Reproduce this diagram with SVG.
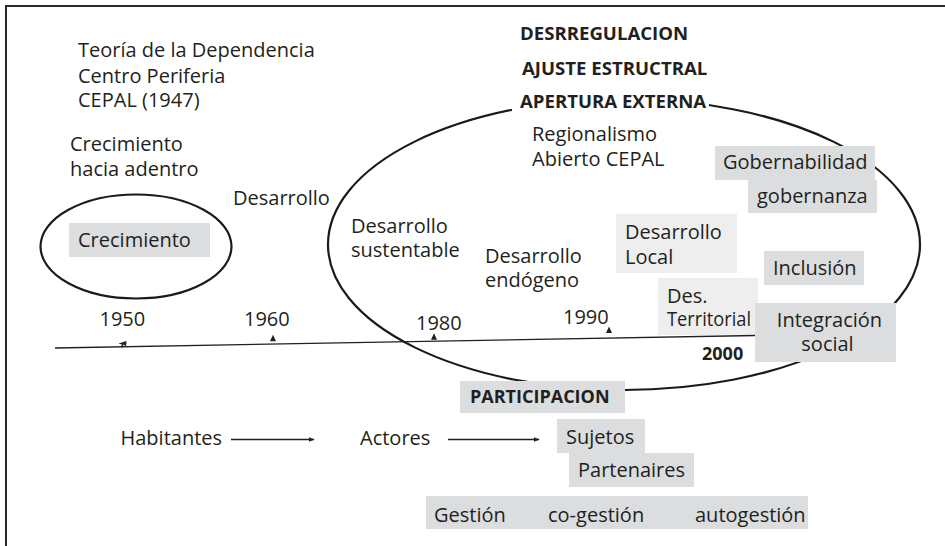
<svg xmlns="http://www.w3.org/2000/svg" width="945" height="546" viewBox="0 0 945 546">
  <defs>
    <style>
      .t { font-family: "Open Sans", "Liberation Sans", sans-serif; font-size: 20px; fill: #231f20; }
      .b { font-family: "Open Sans", "Liberation Sans", sans-serif; font-size: 18.6px; font-weight: 700; fill: #231f20; }
      .box { fill: #dcdddf; }
      .lbox { fill: #eeeeef; }
      .ell { fill: none; stroke: #1a1a1a; stroke-width: 2.2; }
      .conn { fill: none; stroke: #231f20; stroke-width: 1.3; }
      .tick { fill: #231f20; }
    </style>
    <marker id="arr" viewBox="0 0 10 10" refX="9" refY="5" markerWidth="6" markerHeight="6" markerUnits="userSpaceOnUse" orient="auto">
      <path d="M0,1 L10,5 L0,9 Z" fill="#231f20"/>
    </marker>
    <path id="tri" d="M-3,0 L3,0 L0,-6.5 Z"/>
  </defs>

  <rect x="0" y="0" width="945" height="546" fill="#ffffff"/>
  <!-- frame (top and left edges) -->
  <path d="M6,546 L6,6 L945,6" fill="none" stroke="#2a2a2a" stroke-width="2"/>

  <!-- left texts -->
  <g id="teoria">
    <text class="t" x="78" y="57">Teoría de la Dependencia</text>
    <text class="t" x="78" y="82.5">Centro Periferia</text>
    <text class="t" x="78" y="107">CEPAL (1947)</text>
  </g>
  <g id="crec-adentro">
    <text class="t" x="70" y="150.5">Crecimiento</text>
    <text class="t" x="70" y="175.5">hacia adentro</text>
  </g>
  <g id="desarrollo">
    <text class="t" x="233" y="205">Desarrollo</text>
  </g>

  <!-- small ellipse with Crecimiento -->
  <g id="crecimiento">
    <ellipse class="ell" cx="136" cy="246.5" rx="95.5" ry="52"/>
    <rect class="box" x="69" y="223" width="141" height="34"/>
    <text class="t" x="78" y="246.5">Crecimiento</text>
  </g>

  <!-- big ellipse -->
  <g id="big-ellipse">
    <ellipse class="ell" cx="624" cy="244.5" rx="296" ry="145.5"/>
  </g>

  <!-- top bold labels -->
  <g id="desrregulacion">
    <text class="b" x="520" y="40">DESRREGULACION</text>
  </g>
  <g id="ajuste">
    <text class="b" x="522" y="75">AJUSTE ESTRUCTRAL</text>
  </g>
  <g id="apertura">
    <rect x="512" y="90" width="197" height="24" fill="#ffffff"/>
    <text class="b" x="520" y="108">APERTURA EXTERNA</text>
  </g>

  <g id="regionalismo">
    <text class="t" x="532" y="141">Regionalismo</text>
    <text class="t" x="532" y="166">Abierto CEPAL</text>
  </g>

  <g id="sustentable">
    <text class="t" x="351" y="232.5">Desarrollo</text>
    <text class="t" x="351" y="257">sustentable</text>
  </g>
  <g id="endogeno">
    <text class="t" x="485" y="262.5">Desarrollo</text>
    <text class="t" x="485" y="287">endógeno</text>
  </g>

  <g id="gobernabilidad">
    <rect class="box" x="715" y="146" width="160" height="34"/>
    <text class="t" x="723" y="169">Gobernabilidad</text>
  </g>
  <g id="gobernanza">
    <rect class="box" x="748" y="180" width="129" height="33"/>
    <text class="t" x="757" y="203">gobernanza</text>
  </g>
  <g id="des-local">
    <rect class="lbox" x="616" y="214" width="121" height="59"/>
    <text class="t" x="625" y="239">Desarrollo</text>
    <text class="t" x="625" y="263.5">Local</text>
  </g>
  <g id="inclusion">
    <rect class="box" x="764" y="251" width="100" height="34"/>
    <text class="t" x="773" y="275">Inclusión</text>
  </g>
  <g id="des-territorial">
    <rect class="lbox" x="658" y="278" width="100" height="57"/>
    <text class="t" x="667" y="303">Des.</text>
    <text class="t" x="667" y="325.5" textLength="84" lengthAdjust="spacingAndGlyphs">Territorial</text>
  </g>

  <!-- timeline -->
  <g id="timeline">
    <line class="conn" x1="55" y1="348" x2="756" y2="335.5" stroke-width="1.5"/>
    <path class="tick" d="M126.5,341 L118.5,343.6 L121.8,344.6 L121.2,347.5 L123,347.2 L123.6,344.3 L126,346.5 Z"/>
    <use href="#tri" class="tick" x="273" y="341.2"/>
    <use href="#tri" class="tick" x="434" y="339.8"/>
    <use href="#tri" class="tick" x="609" y="333"/>
  </g>
  <g id="years">
    <text class="t" x="99.5" y="326">1950</text>
    <text class="t" x="244" y="326">1960</text>
    <text class="t" x="416" y="329.5">1980</text>
    <text class="t" x="563" y="323.5">1990</text>
    <text class="b" x="702" y="360" style="font-size:18px">2000</text>
  </g>

  <g id="integracion">
    <rect class="box" x="755" y="303" width="141" height="59"/>
    <text class="t" x="829.5" y="327" text-anchor="middle">Integración</text>
    <text class="t" x="827.5" y="351" text-anchor="middle">social</text>
  </g>

  <g id="participacion">
    <rect class="box" x="460" y="381" width="165" height="32"/>
    <text class="b" x="470" y="403" style="font-size:18px">PARTICIPACION</text>
  </g>

  <g id="habitantes">
    <text class="t" x="120.5" y="444.5">Habitantes</text>
  </g>
  <g id="actores">
    <text class="t" x="360" y="444.5">Actores</text>
  </g>
  <g id="sujetos">
    <rect class="box" x="557" y="419" width="88" height="34"/>
    <text class="t" x="566" y="444">Sujetos</text>
  </g>
  <g id="partenaires">
    <rect class="box" x="569" y="453" width="125" height="34"/>
    <text class="t" x="578" y="477">Partenaires</text>
  </g>
  <g id="gestion">
    <rect class="box" x="426" y="496" width="382" height="33"/>
    <text class="t" x="434" y="521.5">Gestión</text>
    <text class="t" x="548" y="521.5">co-gestión</text>
    <text class="t" x="695" y="521.5">autogestión</text>
  </g>

  <g id="connectors">
    <line class="conn" x1="231" y1="439.5" x2="314" y2="439.5" marker-end="url(#arr)"/>
    <line class="conn" x1="448" y1="439.5" x2="539" y2="439.5" marker-end="url(#arr)"/>
  </g>
</svg>
